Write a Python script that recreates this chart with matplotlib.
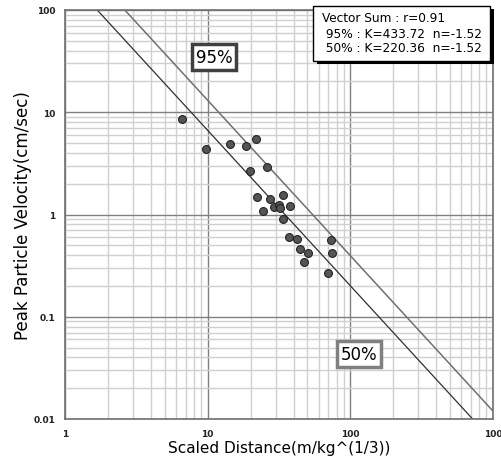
import matplotlib.pyplot as plt
import numpy as np
from matplotlib.ticker import LogLocator, FixedFormatter, FixedLocator, NullFormatter

# Scaled distance and peak particle velocity
sd = [6.6, 9.8, 14.4, 18.7, 21.7, 19.9, 26.1, 22.0, 27.2, 33.7, 24.4, 29.3,
      31.5, 32.3, 38.0, 33.8, 37.2, 42.3, 44.6, 50.2, 47.6, 73.2, 74.5, 69.3]
ppv = [8.6, 4.37, 4.93, 4.67, 5.47, 2.66, 2.91, 1.49, 1.43, 1.54, 1.08, 1.19,
       1.25, 1.16, 1.22, 0.90, 0.60, 0.58, 0.46, 0.42, 0.34, 0.56, 0.42, 0.27]

# Regression constants: PPV = K * SD^n
k95, n95 = 433.72, -1.52
k50, n50 = 220.36, -1.52
r_value = 0.91

x_ticks = [1, 10, 100, 1000]
x_labels = ['1', '10', '100', '100']
y_ticks = [0.01, 0.1, 1, 10, 100]
y_labels = ['0.01', '0.1', '1', '10', '100']

fig = plt.figure(figsize=(5.01, 4.60), dpi=100)
ax = fig.add_axes([65/501, 1-420/460, 428/501, 409/460])

ax.set_xscale('log')
ax.set_yscale('log')
ax.set_xlim(1, 1000)
ax.set_ylim(0.01, 100)

# grid
ax.xaxis.set_minor_locator(LogLocator(base=10, subs=np.arange(2, 10)))
ax.yaxis.set_minor_locator(LogLocator(base=10, subs=np.arange(2, 10)))
ax.grid(which='minor', color='#d0d0d0', linewidth=1.0)
ax.grid(which='major', color='#808080', linewidth=1.0)
ax.set_axisbelow(True)

ax.xaxis.set_major_locator(FixedLocator(x_ticks))
ax.xaxis.set_major_formatter(FixedFormatter(x_labels))
ax.yaxis.set_major_locator(FixedLocator(y_ticks))
ax.yaxis.set_major_formatter(FixedFormatter(y_labels))
ax.xaxis.set_minor_formatter(NullFormatter())
ax.yaxis.set_minor_formatter(NullFormatter())
ax.tick_params(which='both', length=0, labelsize=6.5, colors='#222222', pad=7)
for lab in ax.get_xticklabels() + ax.get_yticklabels():
    lab.set_fontweight('bold')
for s in ax.spines.values():
    s.set_color('#707070')
    s.set_linewidth(1.2)

# regression lines
xs = np.logspace(0, 3, 200)
ax.plot(xs, k95 * xs**n95, color='#707070', linewidth=1.1)
ax.plot(xs, k50 * xs**n50, color='#303030', linewidth=0.9)

# data points
ax.scatter(sd, ppv, s=32, color='#555555', edgecolors='#222222', linewidths=0.8, zorder=3)

ax.set_xlabel('Scaled Distance(m/kg^(1/3))', fontsize=11, labelpad=2)
ax.set_ylabel('Peak Particle Velocity(cm/sec)', fontsize=12, labelpad=1)

# 95% / 50% tags
ax.text(214/501, 1-58/460, '95%', transform=fig.transFigure, fontsize=12,
        ha='center', va='center',
        bbox=dict(boxstyle='square,pad=0.25', fc='white', ec='#404040', lw=2.5))
ax.text(359/501, 1-355/460, '50%', transform=fig.transFigure, fontsize=12,
        ha='center', va='center',
        bbox=dict(boxstyle='square,pad=0.25', fc='white', ec='#808080', lw=2.5))

# info box with shadow
info = ('Vector Sum : r=%.2f\n 95%% : K=%.2f  n=%.2f\n 50%% : K=%.2f  n=%.2f'
        % (r_value, k95, n95, k50, n50))
fig.patches.append(plt.Rectangle((317/501, 1-65/460), 177/501, 55/460,
                                 transform=fig.transFigure, fc='black', ec='none', zorder=5))
fig.patches.append(plt.Rectangle((313/501, 1-62/460), 177/501, 55/460,
                                 transform=fig.transFigure, fc='white', ec='black', lw=1, zorder=6))
fig.text(322/501, 1-34/460, info, fontsize=8.7, va='center', ha='left',
         linespacing=1.2, zorder=7)

plt.savefig('out.png', dpi=100)
